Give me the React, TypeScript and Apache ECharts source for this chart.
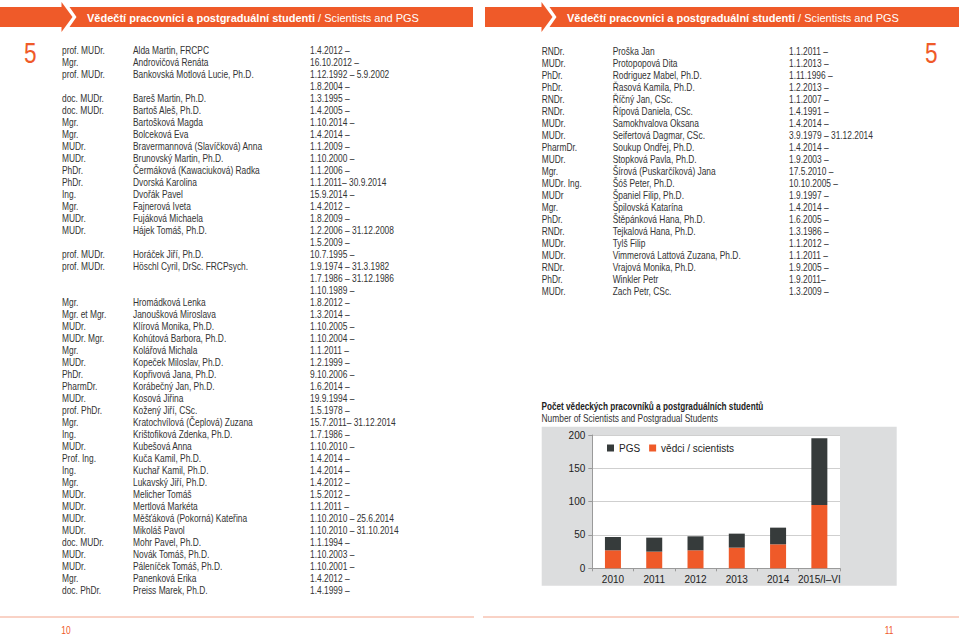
import React, { useEffect, useRef } from "react";
import * as echarts from "echarts";

const SANS = "'Liberation Sans', Arial, sans-serif";

const ORANGE = "#ef5a29";
const DARK = "#363b3b";
const TEXT = "#333333";

const headerBold = "Vědečtí pracovníci a postgraduální studenti";
const headerRegular = " / Scientists and PGS";
const chapterNumber = "5";
const pageNumbers = ["10", "11"];

const leftRows: [string, string, string][] = [
  ["prof. MUDr.", "Alda Martin, FRCPC", "1.4.2012 –"],
  ["Mgr.", "Androvičová Renáta", "16.10.2012 –"],
  ["prof. MUDr.", "Bankovská Motlová Lucie, Ph.D.", "1.12.1992 – 5.9.2002"],
  ["", "", "1.8.2004 –"],
  ["doc. MUDr.", "Bareš Martin, Ph.D.", "1.3.1995 –"],
  ["doc. MUDr.", "Bartoš Aleš, Ph.D.", "1.4.2005 –"],
  ["Mgr.", "Bartošková Magda", "1.10.2014 –"],
  ["Mgr.", "Bolceková Eva", "1.4.2014 –"],
  ["MUDr.", "Bravermannová (Slavíčková) Anna", "1.1.2009 –"],
  ["MUDr.", "Brunovský Martin, Ph.D.", "1.10.2000 –"],
  ["PhDr.", "Čermáková (Kawaciuková) Radka", "1.1.2006 –"],
  ["PhDr.", "Dvorská Karolina", "1.1.2011– 30.9.2014"],
  ["Ing.", "Dvořák Pavel", "15.9.2014 –"],
  ["Mgr.", "Fajnerová Iveta", "1.4.2012 –"],
  ["MUDr.", "Fujáková Michaela", "1.8.2009 –"],
  ["MUDr.", "Hájek Tomáš, Ph.D.", "1.2.2006 – 31.12.2008"],
  ["", "", "1.5.2009 –"],
  ["prof. MUDr.", "Horáček Jiří, Ph.D.", "10.7.1995 –"],
  ["prof. MUDr.", "Höschl Cyril, DrSc. FRCPsych.", "1.9.1974 – 31.3.1982"],
  ["", "", "1.7.1986 – 31.12.1986"],
  ["", "", "1.10.1989 –"],
  ["Mgr.", "Hromádková Lenka", "1.8.2012 –"],
  ["Mgr. et Mgr.", "Janoušková Miroslava", "1.3.2014 –"],
  ["MUDr.", "Klírová Monika, Ph.D.", "1.10.2005 –"],
  ["MUDr. Mgr.", "Kohútová Barbora, Ph.D.", "1.10.2004 –"],
  ["Mgr.", "Kolářová Michala", "1.1.2011 –"],
  ["MUDr.", "Kopeček Miloslav, Ph.D.", "1.2.1999 –"],
  ["PhDr.", "Kopřivová Jana, Ph.D.", "9.10.2006 –"],
  ["PharmDr.", "Korábečný Jan, Ph.D.", "1.6.2014 –"],
  ["MUDr.", "Kosová Jiřina", "19.9.1994 –"],
  ["prof. PhDr.", "Kožený Jiří, CSc.", "1.5.1978 –"],
  ["Mgr.", "Kratochvílová (Čeplová) Zuzana", "15.7.2011– 31.12.2014"],
  ["Ing.", "Krištofiková Zdenka, Ph.D.", "1.7.1986 –"],
  ["MUDr.", "Kubešová Anna", "1.10.2010 –"],
  ["Prof. Ing.", "Kuča Kamil, Ph.D.", "1.4.2014 –"],
  ["Ing.", "Kuchař Kamil, Ph.D.", "1.4.2014 –"],
  ["Mgr.", "Lukavský Jiří, Ph.D.", "1.4.2012 –"],
  ["MUDr.", "Melicher Tomáš", "1.5.2012 –"],
  ["MUDr.", "Mertlová Markéta", "1.1.2011 –"],
  ["MUDr.", "Měšťáková (Pokorná) Kateřina", "1.10.2010 – 25.6.2014"],
  ["MUDr.", "Mikoláš Pavol", "1.10.2010 – 31.10.2014"],
  ["doc. MUDr.", "Mohr Pavel, Ph.D.", "1.1.1994 –"],
  ["MUDr.", "Novák Tomáš, Ph.D.", "1.10.2003 –"],
  ["MUDr.", "Páleníček Tomáš, Ph.D.", "1.10.2001 –"],
  ["Mgr.", "Panenková Erika", "1.4.2012 –"],
  ["doc. PhDr.", "Preiss Marek, Ph.D.", "1.4.1999 –"],
];

const rightRows: [string, string, string][] = [
  ["RNDr.", "Proška Jan", "1.1.2011 –"],
  ["MUDr.", "Protopopová Dita", "1.1.2013 –"],
  ["PhDr.", "Rodriguez Mabel, Ph.D.", "1.11.1996 –"],
  ["PhDr.", "Řasová Kamila, Ph.D.", "1.2.2013 –"],
  ["RNDr.", "Říčný Jan, CSc.", "1.1.2007 –"],
  ["RNDr.", "Řípová Daniela, CSc.", "1.4.1991 –"],
  ["MUDr.", "Samokhvalova Oksana", "1.4.2014 –"],
  ["MUDr.", "Seifertová Dagmar, CSc.", "3.9.1979 – 31.12.2014"],
  ["PharmDr.", "Soukup Ondřej, Ph.D.", "1.4.2014 –"],
  ["MUDr.", "Stopková Pavla, Ph.D.", "1.9.2003 –"],
  ["Mgr.", "Šírová (Puskarčíková) Jana", "17.5.2010 –"],
  ["MUDr. Ing.", "Šóš Peter, Ph.D.", "10.10.2005 –"],
  ["MUDr", "Španiel Filip, Ph.D.", "1.9.1997 –"],
  ["Mgr.", "Špilovská Katarína", "1.4.2014 –"],
  ["PhDr.", "Štěpánková Hana, Ph.D.", "1.6.2005 –"],
  ["RNDr.", "Tejkalová Hana, Ph.D.", "1.3.1986 –"],
  ["MUDr.", "Tylš Filip", "1.1.2012 –"],
  ["MUDr.", "Vimmerová Lattová Zuzana, Ph.D.", "1.1.2011 –"],
  ["RNDr.", "Vrajová Monika, Ph.D.", "1.9.2005 –"],
  ["PhDr.", "Winkler Petr", "1.9.2011–"],
  ["MUDr.", "Zach Petr, CSc.", "1.3.2009 –"],
];

const chartTitle = "Počet vědeckých pracovníků a postgraduálních studentů";
const chartSubtitle = "Number of Scientists and Postgradual Students";
const years = ["2010", "2011", "2012", "2013", "2014", "2015/I–VI"];
const scientists = [27, 25, 27, 31, 36, 95];
const pgs = [20, 21, 21, 21, 25, 100];
const seriesNames = ["PGS", "vědci / scientists"];

function txt(x: number, y: number, text: string, o: any = {}) {
  return {
    type: "text",
    x,
    y,
    z: 10,
    scaleX: o.sx == null ? 0.84 : o.sx,
    silent: true,
    style: {
      text,
      fill: o.fill || TEXT,
      fontSize: o.size || 10,
      fontFamily: SANS,
      fontWeight: o.weight || "normal",
      align: o.align || "left",
      verticalAlign: "middle",
    },
  };
}

function header(off: number, startX: number, endX: number) {
  return [
    { type: "rect", z: 1, shape: { x: startX, y: 7, width: off + 62 - startX, height: 20 }, style: { fill: ORANGE } },
    { type: "polygon", z: 1, shape: { points: [[off + 61.5, 2], [off + 72.5, 17], [off + 61.5, 32]] }, style: { fill: ORANGE } },
    {
      type: "polygon",
      z: 1,
      shape: { points: [[off + 69.5, 7], [endX, 7], [endX, 27], [off + 69.5, 27], [off + 76.5, 17]] },
      style: { fill: ORANGE },
    },
    {
      type: "text",
      x: off + 87,
      y: 17.5,
      z: 10,
      style: {
        text: `{b|${headerBold}}{n|${headerRegular}}`,
        fill: "#fff",
        verticalAlign: "middle",
        rich: {
          b: { fontSize: 11, fontWeight: "bold", fontFamily: SANS, fill: "#fff" },
          n: { fontSize: 11, fontWeight: "normal", fontFamily: SANS, fill: "#fff" },
        },
      },
    },
  ];
}

function table(rows: [string, string, string][], cols: number[], y0: number) {
  const els: any[] = [];
  rows.forEach((r, i) => {
    const y = y0 + i * 12;
    r.forEach((t, j) => {
      if (t) els.push(txt(cols[j], y, t));
    });
  });
  return els;
}

export default function App() {
  const ref = useRef<HTMLDivElement>(null);
  useEffect(() => {
    if (!ref.current) return;
    const chart = echarts.init(ref.current, null, { renderer: "svg" });
    const gLeft = 592.3;
    const gRight = 840;
    const gTop = 435;
    const gBottom = 568.3;

    const graphics: any[] = [
      ...header(0, 0, 473),
      ...header(480, 485, 959),
      txt(24, 52.5, chapterNumber, { size: 29, fill: ORANGE, sx: 0.78 }),
      txt(925, 52.5, chapterNumber, { size: 29, fill: ORANGE, sx: 0.78 }),
      ...table(leftRows, [62, 133, 310], 51),
      ...table(rightRows, [541.7, 612.7, 789], 51.7),
      txt(541.5, 406.5, chartTitle, { size: 10.5, weight: "bold", fill: "#222", sx: 0.78 }),
      txt(541.5, 418, chartSubtitle, { size: 10.5, fill: "#333", sx: 0.8 }),
      {
        type: "rect",
        z: -10,
        shape: { x: 541.7, y: 426.7, width: 355, height: 159 },
        style: { fill: "#dcddde" },
      },
      {
        type: "rect",
        z: -9,
        shape: { x: gLeft, y: gTop, width: gRight - gLeft, height: gBottom - gTop },
        style: { fill: "#ffffff" },
      },
      { type: "line", z: 1, shape: { x1: 0, y1: 617, x2: 474, y2: 617 }, style: { stroke: "#f3a58c", lineWidth: 1 } },
      { type: "line", z: 1, shape: { x1: 483, y1: 617, x2: 959, y2: 617 }, style: { stroke: "#f3a58c", lineWidth: 1 } },
      txt(66, 631, pageNumbers[0], { size: 10, fill: ORANGE, align: "center" }),
      txt(889, 631, pageNumbers[1], { size: 10, fill: ORANGE, align: "center" }),
    ];

    chart.setOption({
      animation: false,
      graphic: { elements: graphics },
      grid: {
        left: gLeft,
        top: gTop,
        width: gRight - gLeft,
        height: gBottom - gTop,
        containLabel: false,
      },
      legend: {
        left: 607,
        top: 443,
        padding: 0,
        icon: "rect",
        itemWidth: 7,
        itemHeight: 7,
        itemGap: 9,
        data: seriesNames,
        textStyle: { fontSize: 10, fontFamily: SANS, color: "#222" },
      },
      xAxis: {
        type: "category",
        data: years,
        axisLine: { lineStyle: { color: "#9a9a9a" } },
        axisTick: { show: true, length: 3, lineStyle: { color: "#9a9a9a" } },
        axisLabel: { interval: 0, fontSize: 10, fontFamily: SANS, color: "#222", margin: 6 },
      },
      yAxis: {
        type: "value",
        min: 0,
        max: 200,
        interval: 50,
        axisLine: { show: true, lineStyle: { color: "#9a9a9a" } },
        axisTick: { show: true, length: 4, lineStyle: { color: "#9a9a9a" } },
        axisLabel: { fontSize: 10, fontFamily: SANS, color: "#222", margin: 7 },
        splitLine: { lineStyle: { color: "#cfcfcf" } },
      },
      series: [
        {
          name: seriesNames[1],
          type: "bar",
          stack: "total",
          barWidth: 16,
          data: scientists,
          itemStyle: { color: ORANGE },
        },
        {
          name: seriesNames[0],
          type: "bar",
          stack: "total",
          barWidth: 16,
          data: pgs,
          itemStyle: { color: DARK },
        },
      ],
    });
    return () => chart.dispose();
  }, []);
  return (
    <div
      ref={ref}
      style={{ position: "fixed", left: 0, top: 0, width: 959, height: 635, background: "#fff" }}
    />
  );
}
